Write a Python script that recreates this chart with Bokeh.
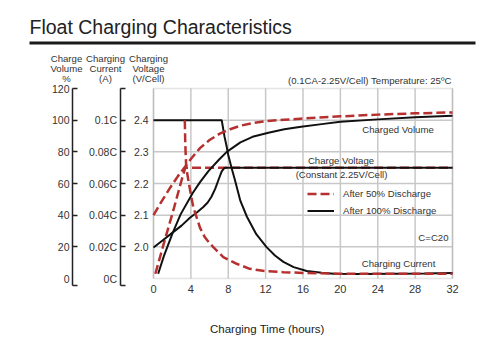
from bokeh.plotting import figure
from bokeh.models import (Range1d, LinearAxis, FixedTicker, Label, Legend, LegendItem,
                          PrintfTickFormatter, BoxAnnotation)
from bokeh.embed import file_html
from bokeh.resources import INLINE

FONT = "Liberation Sans"
RED = "#b5302f"
BLACK = "#111111"
TXT = "#333333"
AXC = "#222222"
GRID = "#c8c8c8"

TITLE = "Float Charging Characteristics"
CONDITIONS = "(0.1CA-2.25V/Cell) Temperature: 25ºC"
X_TITLE = "Charging Time (hours)"
AXIS_TITLES = [["Charge", "Volume", "%"], ["Charging", "Current", "(A)"], ["Charging", "Voltage", "(V/Cell)"]]
LEGEND_LABELS = ["After 50% Discharge", "After 100% Discharge"]

hour_ticks = [0, 4, 8, 12, 16, 20, 24, 28, 32]
volume_ticks = [0, 20, 40, 60, 80, 100, 120]
current_ticks = [0, 0.02, 0.04, 0.06, 0.08, 0.1, 0.12]
current_labels = ["0C", "0.02C", "0.04C", "0.06C", "0.08C", "0.1C", ""]
voltage_ticks = [2.0, 2.1, 2.2, 2.3, 2.4]

# After 50% discharge (red dashed)
t50_voltage = [0.2, 1.1, 2.15, 3.0, 3.4, 32]
v50_voltage = [1.915, 2.01, 2.118, 2.21, 2.25, 2.25]
t50_current = [3.35, 3.4, 3.5, 3.73, 4.0, 4.26, 4.98, 5.5, 6.05, 6.4, 7.47, 8.2, 8.9, 10.3, 12.0, 13.9, 16, 20, 24, 28, 32]
c50_current = [0.1, 0.085, 0.0705, 0.062, 0.053, 0.045, 0.032, 0.026, 0.022, 0.0198, 0.0135, 0.0114, 0.0093, 0.0061, 0.0047, 0.004, 0.0035, 0.003, 0.003, 0.003, 0.003]
t50_volume = [0, 0.9, 1.8, 2.6, 3.3, 4.0, 5.0, 6.0, 7.1, 8.2, 9.3, 10.7, 12.1, 14, 15.7, 20, 24, 28, 32]
p50_volume = [40, 49, 57.5, 64.5, 70, 75.5, 82.5, 87.5, 91.5, 94.3, 96.5, 98.2, 99.4, 100.3, 100.9, 102.4, 103.5, 104.3, 104.9]

# After 100% discharge (black solid)
t100_voltage = [0, 1.0, 2.0, 3.0, 3.9, 4.7, 5.33, 5.8, 6.2, 6.6, 7.0, 7.3, 7.55, 7.75, 32]
v100_voltage = [1.998, 2.021, 2.044, 2.067, 2.092, 2.11, 2.126, 2.14, 2.158, 2.183, 2.215, 2.238, 2.248, 2.25, 2.25]
t100_current = [0, 7.3, 7.6, 7.84, 8.0, 8.35, 8.7, 9.3, 10.0, 11.0, 12.1, 13.0, 13.9, 15.0, 16.4, 18.0, 19.3, 22, 26, 29, 32]
c100_current = [0.1, 0.1, 0.0896, 0.083, 0.078, 0.07, 0.0625, 0.049, 0.039, 0.028, 0.0198, 0.0145, 0.0105, 0.0072, 0.0047, 0.0036, 0.003, 0.0028, 0.003, 0.0032, 0.0035]
t100_volume = [0.5, 1.1, 2.0, 2.9, 4.2, 5.0, 5.9, 7.0, 7.84, 9.3, 10.6, 12.3, 14.0, 15.8, 18, 20, 24, 28, 32]
p100_volume = [3, 14, 28, 40.5, 54, 61, 68, 75, 80, 86, 89.5, 92, 94.2, 95.8, 97.5, 99, 100.5, 101.8, 102.8]

# ---- layout (pixels) ----
W, H = 500, 356
PL, PR, PT, PB = 153, 452, 88, 278          # plotting area box
CAP_PX = 285                                 # bottom end of the bracket-style axes
X0, X1 = hour_ticks[0], hour_ticks[-1]
V0, V1 = 1.9, 2.5
VOL1, CUR1 = volume_ticks[-1], current_ticks[-1]
kx = (PR - PL) / (X1 - X0)
kv = (PB - PT) / (V1 - V0)


def hx(px):
    return X0 + (px - PL) / kx


def vy(py):
    return V1 - (py - PT) / kv


def span(top):
    k = (PB - PT) / top
    return Range1d(-(H - PB) / k, top + PT / k)


def cap(top):
    return -(CAP_PX - PB) * top / (PB - PT)


p = figure(width=W, height=H, x_range=Range1d(hx(0), hx(W)), y_range=Range1d(vy(H), vy(0)),
           x_axis_location=None, y_axis_location=None, min_border=0,
           toolbar_location=None, output_backend="svg", outline_line_color=None)
p.extra_y_ranges = {"vol": span(VOL1), "cur": span(CUR1)}
p.background_fill_color = "white"
p.border_fill_color = "white"
p.grid.visible = False

# grid lines of the plotting area, from the tick lists
p.segment(x0=hour_ticks, y0=[V0] * len(hour_ticks), x1=hour_ticks, y1=[V1] * len(hour_ticks),
          line_color=GRID, line_width=1.5, level="underlay")
p.segment(x0=[X0] * len(voltage_ticks), y0=voltage_ticks, x1=[X1] * len(voltage_ticks), y1=voltage_ticks,
          line_color=GRID, line_width=1.5, level="underlay")
p.add_layout(BoxAnnotation(left=X0, right=X1, bottom=V0, top=V1, fill_alpha=0,
                           line_color="#a8a8a8", line_width=1.5, level="underlay"))

label_style = dict(major_label_text_font=FONT, major_label_text_font_size="10.5px",
                   major_label_text_color=TXT)

xa = LinearAxis(fixed_location=V0, ticker=FixedTicker(ticks=hour_ticks), bounds=(X0, X1),
                axis_line_color=None, major_tick_line_color=None, minor_tick_line_color=None,
                major_tick_in=0, major_tick_out=0, major_label_standoff=6,
                major_label_text_font=FONT, major_label_text_font_size="11px",
                major_label_text_color=TXT)
p.add_layout(xa, "below")

va = LinearAxis(fixed_location=X0, ticker=FixedTicker(ticks=voltage_ticks),
                formatter=PrintfTickFormatter(format="%.1f"),
                axis_line_color=None, major_tick_line_color=None, minor_tick_line_color=None,
                major_tick_in=0, major_tick_out=0, major_label_standoff=5, **label_style)
p.add_layout(va, "left")


def bracket_axis(rng, px, ticks, labels, top):
    """Bracket-like axis: line from a bottom cap to the top tick, ticks pointing right;
    the zero label is drawn by a second, line-less axis."""
    c = cap(top)
    tk = [c] + ticks[1:]
    overrides = {c: ""}
    overrides.update({t: s for t, s in zip(ticks[1:], labels[1:])})
    p.add_layout(LinearAxis(y_range_name=rng, fixed_location=hx(px), bounds=(c, top),
                            ticker=FixedTicker(ticks=tk), major_label_overrides=overrides,
                            axis_line_color=AXC, axis_line_width=1.5,
                            major_tick_line_color=AXC, major_tick_line_width=1.5,
                            major_tick_in=5, major_tick_out=0, minor_tick_line_color=None,
                            major_label_standoff=3, **label_style), "left")
    p.add_layout(LinearAxis(y_range_name=rng, fixed_location=hx(px),
                            ticker=FixedTicker(ticks=ticks[:1]),
                            major_label_overrides={ticks[0]: labels[0]},
                            axis_line_color=None, major_tick_line_color=None,
                            minor_tick_line_color=None, major_tick_in=0, major_tick_out=0,
                            major_label_standoff=3, **label_style), "left")


bracket_axis("cur", 119.5, current_ticks, current_labels, CUR1)
bracket_axis("vol", 72, volume_ticks, [str(v) for v in volume_ticks], VOL1)

dash = "9 4"
r50v = p.line(t50_voltage, v50_voltage, line_color=RED, line_width=2.5, line_dash=dash)
r100v = p.line(t100_voltage, v100_voltage, line_color=BLACK, line_width=2)
p.line(t100_current, c100_current, y_range_name="cur", line_color=BLACK, line_width=2)
p.line(t50_current, c50_current, y_range_name="cur", line_color=RED, line_width=2.5, line_dash=dash)
p.line(t50_volume, p50_volume, y_range_name="vol", line_color=RED, line_width=2.5, line_dash=dash)
p.line(t100_volume, p100_volume, y_range_name="vol", line_color=BLACK, line_width=2)


def note(px, py, s, align="center", size="9.6px", color=TXT):
    p.add_layout(Label(x=hx(px), y=vy(py), text=s, text_font=FONT, text_font_size=size,
                       text_align=align, text_baseline="middle", text_color=color))


note(397.5, 129, "Charged Volume")
note(340.5, 160, "Charge Voltage")
note(341, 174.3, "(Constant 2.25V/Cell)")
note(448, 237.3, "C=C20", align="right")
note(398, 263.3, "Charging Current")

note(266.8, 328.3, X_TITLE, size="11.5px", color="#222222")
note(29, 26.5, TITLE, align="left", size="19.5px", color="#222222")
note(451, 80, CONDITIONS, align="right")
for cx, lines in zip([66, 105, 148], AXIS_TITLES):
    for ly, s in zip([57.5, 67.8, 78.1], lines):
        note(cx, ly, s)
p.add_layout(BoxAnnotation(left=hx(29), right=hx(475), bottom=vy(44), top=vy(41),
                           fill_color="#1a1a1a", fill_alpha=1, line_color=None))

legend = Legend(items=[LegendItem(label=LEGEND_LABELS[0], renderers=[r50v]),
                       LegendItem(label=LEGEND_LABELS[1], renderers=[r100v])],
                location=(307, H - 218.5), padding=0, spacing=0, margin=0,
                glyph_width=27, glyph_height=17, label_height=17, label_standoff=9,
                label_text_font=FONT, label_text_font_size="9.6px", label_text_color=TXT,
                border_line_color=None, background_fill_alpha=0)
p.add_layout(legend)

open("out.html", "w").write(file_html(p, INLINE))
